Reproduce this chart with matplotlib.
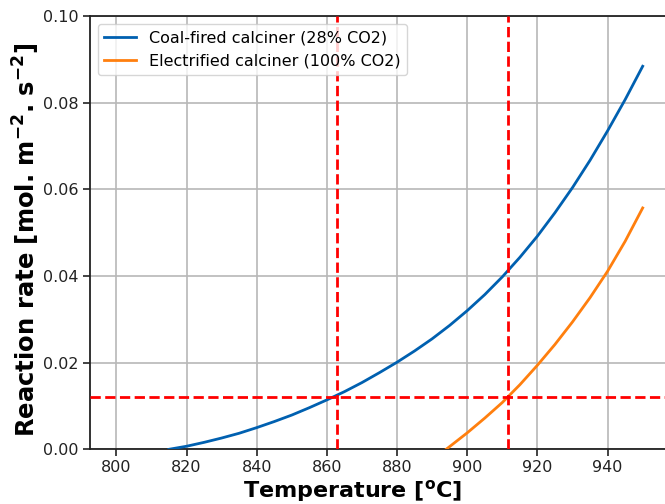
import matplotlib
matplotlib.use("Agg")
import matplotlib.pyplot as plt

# Coal-fired calciner (28% CO2)
coal_T = [815, 820, 825, 830, 835, 840, 845, 850, 855, 860, 865, 870, 875, 880,
          885, 890, 895, 900, 905, 910, 915, 920, 925, 930, 935, 940, 945, 950]
coal_rate = [0.0, 0.0007, 0.0016, 0.0026, 0.0037, 0.0050, 0.0064, 0.0079, 0.0096,
             0.0114, 0.0133, 0.0154, 0.0177, 0.0201, 0.0227, 0.0255, 0.0286, 0.0320,
             0.0357, 0.0398, 0.0443, 0.0492, 0.0546, 0.0604, 0.0667, 0.0735, 0.0807,
             0.0884]

# Electrified calciner (100% CO2)
elec_T = [894, 897, 900, 905, 910, 915, 920, 925, 930, 935, 940, 945, 950]
elec_rate = [0.0, 0.0019, 0.0038, 0.0072, 0.0108, 0.0149, 0.0194, 0.0242, 0.0294,
             0.0350, 0.0411, 0.0480, 0.0557]

target_rate = 0.012
coal_T_at_target = 863.0
elec_T_at_target = 911.5

x_ticks = [800, 820, 840, 860, 880, 900, 920, 940]
y_ticks = [0.00, 0.02, 0.04, 0.06, 0.08, 0.10]

fig = plt.figure(figsize=(6.65, 5.04), dpi=100)
ax = fig.add_axes([90 / 665, (504 - 449.3) / 504, (669 - 90) / 665, (449.3 - 16) / 504])

ax.grid(True, color="#b8b8b8", linewidth=1.2, zorder=0)
ax.plot(coal_T, coal_rate, color="#0060b0", linewidth=2, label="Coal-fired calciner (28% CO2)", zorder=3)
ax.plot(elec_T, elec_rate, color="#ff7f0e", linewidth=2, label="Electrified calciner (100% CO2)", zorder=3)
ax.axhline(target_rate, color="red", linestyle="--", linewidth=2, zorder=4)
ax.axvline(coal_T_at_target, color="red", linestyle="--", linewidth=2, zorder=4)
ax.axvline(elec_T_at_target, color="red", linestyle="--", linewidth=2, zorder=4)

ax.set_xlim(792.5, 957.5)
ax.set_ylim(0, 0.1)
ax.set_xticks(x_ticks)
ax.set_yticks(y_ticks)
ax.set_yticklabels([f"{v:.2f}" for v in y_ticks])
ax.tick_params(labelsize=11.5, length=5, width=1.2, colors="#222222")
ax.tick_params(axis="x", pad=3)
for s in ax.spines.values():
    s.set_linewidth(1.3)
    s.set_color("#222222")
ax.spines["right"].set_visible(False)

ax.set_xlabel(r"Temperature [$^\mathbf{o}$C]", fontsize=16, fontweight="bold")
ax.xaxis.set_label_coords((353 - 90) / (669 - 90), -0.067)
ax.set_ylabel(r"Reaction rate [mol. m$^{\mathbf{-2}}$. s$^{\mathbf{-2}}$]", fontsize=17.5,
              fontweight="bold")
ax.yaxis.set_label_coords(-(90 - 42) / (669 - 90), 0.483)
ax.legend(loc="upper left", fontsize=11.5, framealpha=0.8)

fig.savefig("out.png", dpi=100)
